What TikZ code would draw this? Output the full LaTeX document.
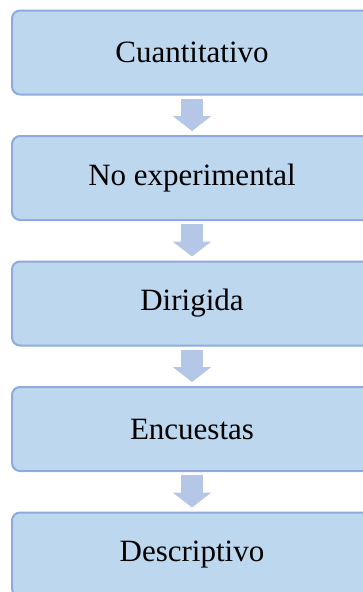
\documentclass[tikz,border=0pt]{standalone}
\usepackage{fontspec}
\setmainfont{Liberation Serif}
\usetikzlibrary{arrows.meta}
\definecolor{boxfill}{RGB}{189,215,238}
\definecolor{boxline}{RGB}{143,170,220}
\definecolor{arrowfill}{RGB}{180,199,231}
\begin{document}
\begin{tikzpicture}[x=1pt,y=1pt,
  stagebox/.style={draw=boxline, fill=boxfill, line width=2pt, rounded corners=8pt,
    minimum width=360pt, minimum height=84pt, inner sep=0pt, outer sep=0pt,
    font=\fontsize{31}{36}\selectfont, text=black},
  flowarrow/.style={draw=none, arrowfill, line width=22pt,
    -{Triangle[width=38pt,length=15pt]}}]
\useasboundingbox (0,0) rectangle (363,-592);
\node[stagebox] (b1) at (192,-52.5) {Cuantitativo};
\node[stagebox] (b2) at (192,-178) {No experimental};
\node[stagebox] (b3) at (192,-303.5) {Dirigida};
\node[stagebox] (b4) at (192,-429) {Encuestas};
\node[stagebox] (b5) at (192,-554.5) {Descriptivo};
\foreach \a/\b in {b1/b2,b2/b3,b3/b4,b4/b5}{
  \path[flowarrow, draw=arrowfill] ([yshift=-4pt]\a.south) -- ([yshift=5pt]\b.north);
}
\end{tikzpicture}
\end{document}
